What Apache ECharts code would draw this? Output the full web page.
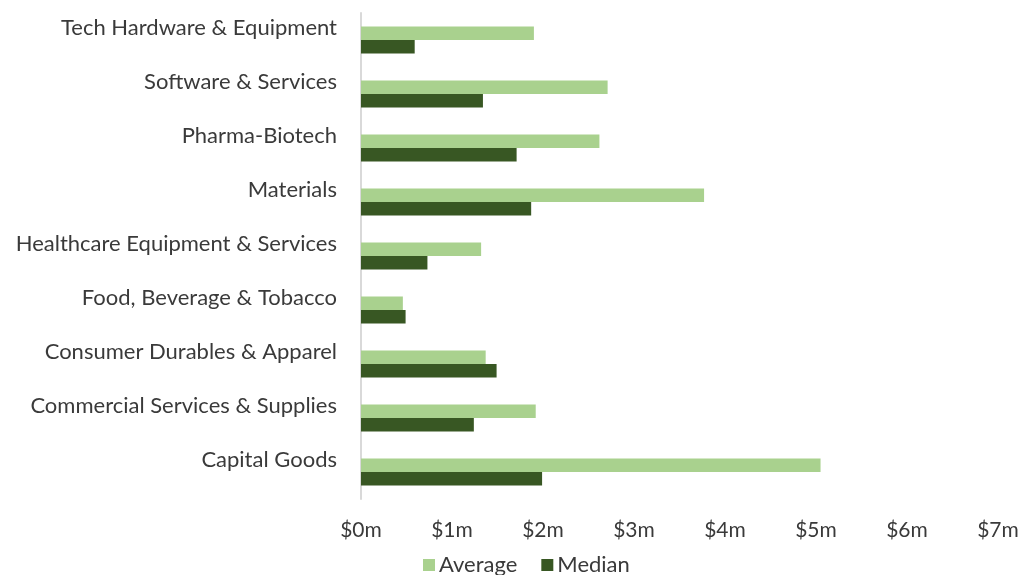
<!DOCTYPE html>
<html>
<head>
<meta charset="utf-8">
<script src="https://cdn.jsdelivr.net/npm/echarts@6/dist/echarts.min.js"></script>
<style>
  html, body { margin: 0; padding: 0; background: #ffffff; }
  #chart { width: 1024px; height: 575px; }
</style>
</head>
<body>
<div id="chart"></div>
<script>
// Sectors, top to bottom
const categories = [
  'Tech Hardware & Equipment',
  'Software & Services',
  'Pharma-Biotech',
  'Materials',
  'Healthcare Equipment & Services',
  'Food, Beverage & Tobacco',
  'Consumer Durables & Apparel',
  'Commercial Services & Supplies',
  'Capital Goods'
];

// Values in $ millions
const averageValues = [1.90, 2.71, 2.62, 3.77, 1.32, 0.46, 1.37, 1.92, 5.05];
const medianValues  = [0.59, 1.34, 1.71, 1.87, 0.73, 0.49, 1.49, 1.24, 1.99];

const seriesNames = ['Average', 'Median'];
const xTicks = { min: 0, max: 7, interval: 1 };

const fontFamily = 'Lato, "Open Sans", sans-serif';
const textColor = '#3a3a3a';

const chart = echarts.init(document.getElementById('chart'), null, { renderer: 'canvas' });

chart.setOption({
  backgroundColor: '#ffffff',
  animation: false,
  grid: { left: 361, right: 26, top: 13, bottom: 76, containLabel: false },
  legend: {
    data: seriesNames,
    bottom: -6,
    left: 418,
    itemWidth: 12,
    itemHeight: 12,
    itemGap: 24,
    icon: 'rect',
    textStyle: { fontFamily, fontSize: 22, color: textColor, padding: [0, 0, 0, -1] }
  },
  xAxis: {
    type: 'value',
    min: xTicks.min,
    max: xTicks.max,
    interval: xTicks.interval,
    axisLine: { show: false },
    axisTick: { show: false },
    splitLine: { show: false },
    axisLabel: {
      margin: 21,
      fontFamily,
      fontSize: 21,
      color: textColor,
      formatter: v => '$' + v + 'm'
    }
  },
  yAxis: {
    type: 'category',
    data: categories,
    inverse: true,
    axisLine: { show: true, lineStyle: { color: '#d9d9d9', width: 2 } },
    axisTick: { show: false },
    axisLabel: {
      margin: 24,
      fontFamily,
      fontSize: 22,
      color: textColor,
      verticalAlign: 'bottom',
      lineHeight: 24
    }
  },
  series: [
    {
      name: seriesNames[0],
      type: 'bar',
      data: averageValues,
      barGap: '0%',
      barCategoryGap: '50%',
      itemStyle: { color: '#a9d18e' }
    },
    {
      name: seriesNames[1],
      type: 'bar',
      data: medianValues,
      barGap: '0%',
      barCategoryGap: '50%',
      itemStyle: { color: '#385723' }
    }
  ]
});
</script>
</body>
</html>
